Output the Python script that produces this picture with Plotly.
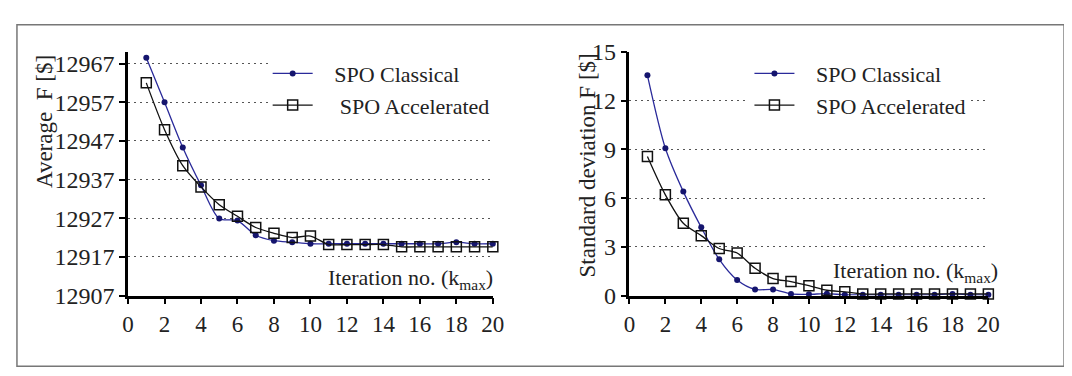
import plotly.graph_objects as go

W, H = 1072, 376

iterations = list(range(1, 21))
avg_classical = [12968.5, 12957.0, 12945.3, 12935.5, 12926.9, 12926.4, 12922.6, 12921.2,
                 12920.8, 12920.4, 12920.4, 12920.4, 12920.4, 12920.4, 12920.4, 12920.4,
                 12920.4, 12920.8, 12920.4, 12920.4]
avg_accelerated = [12962.0, 12949.9, 12940.6, 12935.1, 12930.5, 12927.5, 12924.6, 12923.1,
                   12922.0, 12922.4, 12920.2, 12920.2, 12920.2, 12920.2, 12919.6, 12919.6,
                   12919.6, 12919.6, 12919.6, 12919.6]
std_classical = [13.56, 9.07, 6.4, 4.2, 2.23, 0.96, 0.38, 0.38, 0.1, 0.08,
                 0.12, 0.05, 0.05, 0.05, 0.05, 0.05, 0.05, 0.1, 0.05, 0.05]
std_accelerated = [8.56, 6.2, 4.45, 3.69, 2.9, 2.62, 1.68, 1.05, 0.86, 0.61,
                   0.33, 0.23, 0.1, 0.1, 0.1, 0.1, 0.1, 0.1, 0.1, 0.1]

x_ticks = list(range(0, 21, 2))
avg_ticks = [12907, 12917, 12927, 12937, 12947, 12957, 12967]
std_ticks = [0, 3, 6, 9, 12, 15]

SERIF = "Liberation Serif"
TXT = "#222222"
NAVY = "#15156e"
BLUE_LINE = "#2a2a9a"


def px_x(p):
    return p / W


def px_y(p):
    return 1 - p / H


fig = go.Figure()

# Left panel
fig.add_trace(go.Scatter(
    x=iterations, y=avg_classical, mode="lines+markers", name="\u00a0\u00a0\u00a0SPO Classical",
    line=dict(color=BLUE_LINE, width=1.3, shape="spline", smoothing=0.8),
    marker=dict(symbol="circle", size=6, color=NAVY),
    xaxis="x", yaxis="y", legend="legend", cliponaxis=False))
fig.add_trace(go.Scatter(
    x=iterations, y=avg_accelerated, mode="lines+markers", name="\u00a0\u00a0\u00a0\u00a0SPO Accelerated",
    line=dict(color="#111111", width=1.3, shape="spline", smoothing=0.8),
    marker=dict(symbol="square-open", size=10, color="#111111", line=dict(width=1.5)),
    xaxis="x", yaxis="y", legend="legend", cliponaxis=False))

# Right panel
fig.add_trace(go.Scatter(
    x=iterations, y=std_classical, mode="lines+markers", name="\u00a0\u00a0\u00a0SPO Classical",
    line=dict(color=BLUE_LINE, width=1.3, shape="spline", smoothing=0.8),
    marker=dict(symbol="circle", size=6, color=NAVY),
    xaxis="x2", yaxis="y2", legend="legend2", cliponaxis=False))
fig.add_trace(go.Scatter(
    x=iterations, y=std_accelerated, mode="lines+markers", name="\u00a0\u00a0\u00a0SPO Accelerated",
    line=dict(color="#111111", width=1.3, shape="spline", smoothing=0.8),
    marker=dict(symbol="square-open", size=10, color="#111111", line=dict(width=1.5)),
    xaxis="x2", yaxis="y2", legend="legend2", cliponaxis=False))

ydom = [px_y(295), px_y(33.2)]

axis_common = dict(
    showline=True, linecolor="black", linewidth=2.5,
    ticks="outside", ticklen=6, tickwidth=2, tickcolor="black",
    zeroline=False,
)

fig.update_layout(
    width=W, height=H,
    margin=dict(l=0, r=0, t=0, b=0),
    paper_bgcolor="white", plot_bgcolor="white",
    font=dict(family=SERIF, color=TXT),
    xaxis=dict(domain=[px_x(116), px_x(487)], range=[0, 20], tickvals=x_ticks,
               showgrid=False, anchor="y", tickfont=dict(size=23, family=SERIF, color=TXT),
               **axis_common),
    yaxis=dict(domain=ydom, range=[12907, 12970], tickvals=avg_ticks, tickformat="d",
               showgrid=True, gridcolor="#555555", griddash="2px,4px", gridwidth=1.3,
               anchor="x", tickfont=dict(size=24, family=SERIF, color=TXT), **axis_common),
    xaxis2=dict(domain=[px_x(626), px_x(991)], range=[0, 20], tickvals=x_ticks,
                showgrid=False, anchor="y2", tickfont=dict(size=23, family=SERIF, color=TXT),
                **axis_common),
    yaxis2=dict(domain=ydom, range=[0, 15], tickvals=std_ticks, tickformat="d",
                showgrid=True, gridcolor="#555555", griddash="2px,4px", gridwidth=1.3,
                anchor="x2", tickfont=dict(size=24, family=SERIF, color=TXT), **axis_common),
    legend=dict(x=px_x(258), y=px_y(34), xanchor="left", yanchor="top",
                bgcolor="white", font=dict(size=22, family=SERIF, color=TXT),
                itemwidth=40, tracegroupgap=0),
    legend2=dict(x=px_x(748), y=px_y(34), xanchor="left", yanchor="top",
                 bgcolor="white", font=dict(size=22, family=SERIF, color=TXT),
                 itemwidth=40, tracegroupgap=0),
    showlegend=True,
)

annotations = [
    dict(text="Iteration no. (k<sub>max</sub>)", x=px_x(489), y=px_y(277),
         xref="paper", yref="paper", xanchor="right", yanchor="middle", showarrow=False,
         font=dict(size=22, family=SERIF, color=TXT)),
    dict(text="Iteration no. (k<sub>max</sub>)", x=px_x(1003), y=px_y(270),
         xref="paper", yref="paper", xanchor="right", yanchor="middle", showarrow=False,
         font=dict(size=22, family=SERIF, color=TXT)),
    dict(text="Average\u00a0\u00a0F [$]", x=px_x(31), y=px_y(108),
         xref="paper", yref="paper", xanchor="center", yanchor="middle", showarrow=False,
         textangle=-90, font=dict(size=23, family=SERIF, color=TXT)),
    dict(text="Standard deviation F [$]", x=px_x(583), y=px_y(155),
         xref="paper", yref="paper", xanchor="center", yanchor="middle", showarrow=False,
         textangle=-90, font=dict(size=23, family=SERIF, color=TXT)),
]
fig.update_layout(annotations=annotations)

fig.add_shape(type="rect", xref="paper", yref="paper",
              x0=px_x(3), y0=px_y(371), x1=px_x(1068), y1=px_y(4),
              line=dict(color="#777777", width=1.5), fillcolor="rgba(0,0,0,0)", layer="below")

fig.write_html("out.html")
